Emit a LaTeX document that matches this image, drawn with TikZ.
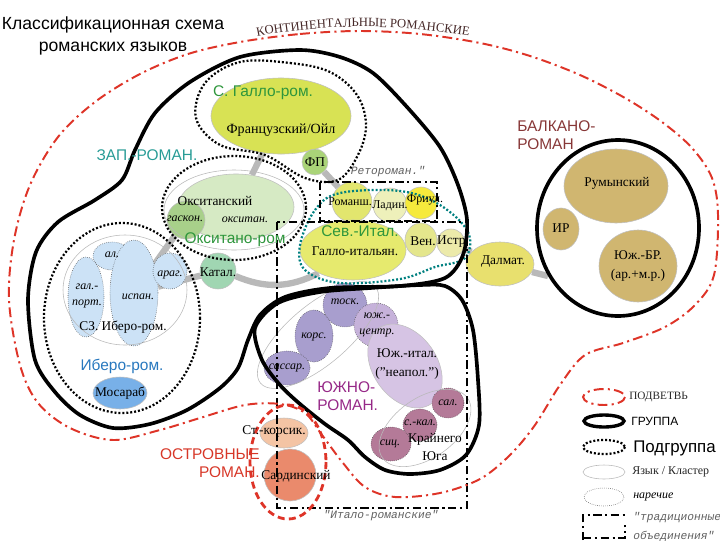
\documentclass[tikz,border=0pt]{standalone}
\usepackage{fontspec}
\setmainfont{Liberation Serif}
\newfontfamily\grpfont{Liberation Sans}
\newfontfamily\tradfont{Liberation Mono}
\usetikzlibrary{shapes.geometric,backgrounds,decorations.text}

\definecolor{podred}{RGB}{222,52,40}
\definecolor{konttxt}{RGB}{70,40,40}
\definecolor{zapcol}{RGB}{40,156,150}
\definecolor{galcol}{RGB}{46,150,60}
\definecolor{ibcol}{RGB}{40,120,190}
\definecolor{balcol}{RGB}{135,55,55}
\definecolor{yucol}{RGB}{150,40,135}
\definecolor{ostcol}{RGB}{215,55,40}
\definecolor{oil}{RGB}{216,226,84}
\definecolor{fpcol}{RGB}{170,212,120}
\definecolor{okcol}{RGB}{214,234,196}
\definecolor{gascol}{RGB}{168,208,138}
\definecolor{catcol}{RGB}{160,214,178}
\definecolor{ibcl}{RGB}{204,226,246}
\definecolor{mozcol}{RGB}{120,176,232}
\definecolor{romcol}{RGB}{226,230,110}
\definecolor{ladcol}{RGB}{238,240,186}
\definecolor{frcol}{RGB}{246,234,60}
\definecolor{gicol}{RGB}{230,234,110}
\definecolor{vencol}{RGB}{228,230,140}
\definecolor{istcol}{RGB}{236,234,170}
\definecolor{dalcol}{RGB}{232,224,110}
\definecolor{rumcol}{RGB}{208,182,112}
\definecolor{toscol}{RGB}{168,158,206}
\definecolor{yczcol}{RGB}{198,178,218}
\definecolor{yitcol}{RGB}{214,196,228}
\definecolor{salcol}{RGB}{180,122,152}
\definecolor{korscol}{RGB}{244,196,164}
\definecolor{sardcol}{RGB}{234,138,108}

\tikzset{
  sz/.style 2 args={minimum width=#1*0.05cm,minimum height=#2*0.05cm},
  lang/.style={ellipse,inner sep=0pt,draw=gray!50,thin},
  dial/.style={ellipse,inner sep=0pt,draw=gray!60!black,densely dotted,thin},
  txt/.style={inner sep=0pt,font=\fontsize{9.5}{10}\selectfont},
  ital/.style={inner sep=0pt,font=\fontsize{8.5}{12}\selectfont\itshape},
  grp/.style={inner sep=0pt,font=\grpfont\fontsize{11}{13}\selectfont},
  band/.style={line width=4.5pt,draw=gray!55},
  gruppa/.style={line width=2.6pt},
  podgr/.style={line width=1.6pt,dash pattern=on 1.4pt off 1.4pt},
  podv/.style={draw=podred,line width=1.4pt,dash pattern=on 7pt off 3pt on 1.5pt off 3pt},
  ostrov/.style={draw=podred,line width=2pt,dash pattern=on 5pt off 3pt},
  trad/.style={line width=1.1pt,dash pattern=on 6pt off 2.5pt on 1.5pt off 2.5pt},
  klaster/.style={draw=gray!55,thin},
  tradtxt/.style={inner sep=0pt,text=gray!75!black,font=\tradfont\itshape\fontsize{8}{9}\selectfont}
}

\begin{document}
\begin{tikzpicture}[x=0.025cm,y=-0.025cm]
\useasboundingbox (0,0) rectangle (720,540);

%Titel
\node[grp,align=center,font=\grpfont\fontsize{12.5}{15}\selectfont] (titel) at (113,36) {Классификационная схема\\романских языков};

%Sprachen
\node[lang,fill=oil,sz={70}{38}] (oil) at (281,116) {};
\node[lang,fill=fpcol,sz={13}{13}] (fp) at (315,162) {};
\node[lang,fill=okcol,sz={58}{33}] (ok) at (236,207) {};
\node[lang,fill=gascol,sz={19}{19}] (gas) at (186,220) {};
\node[lang,fill=catcol,sz={18}{18}] (cat) at (218,271) {};
\node[dial,fill=ibcl,sz={19}{14}] (al) at (112,256) {};
\node[dial,fill=ibcl,sz={18}{40}] (galp) at (86,297) {};
\node[dial,fill=ibcl,sz={24}{53}] (isp) at (134,293) {};
\node[dial,fill=ibcl,sz={17}{18}] (arag) at (170,271) {};
\node[lang,fill=mozcol,sz={27}{16}] (moz) at (120,393) {};
\node[lang,fill=romcol,sz={20}{20}] (rom) at (352,202) {};
\node[lang,fill=ladcol,sz={17}{17}] (lad) at (390,205) {};
\node[lang,fill=frcol,sz={16}{16}] (fri) at (421,203) {};
\node[lang,fill=gicol,sz={53}{30}] (gi) at (353,250) {};
\node[lang,fill=vencol,sz={16}{17}] (ven) at (421,240) {};
\node[lang,fill=istcol,sz={14}{14}] (ist) at (451,243) {};
\node[lang,fill=dalcol,sz={34}{22}] (dal) at (500,264) {};
\node[lang,fill=rumcol,sz={52}{37}] (rum) at (616,186) {};
\node[lang,fill=rumcol,sz={18}{21}] (ir) at (561,229) {};
\node[lang,fill=rumcol,sz={39}{36}] (ybr) at (638,266) {};
\node[dial,fill=toscol,sz={22}{22}] (tos) at (345,305) {};
\node[dial,fill=toscol,sz={19}{26}] (kor) at (314,336) {};
\node[dial,fill=toscol,sz={23}{17}] (sas) at (287,368) {};
\node[dial,fill=yczcol,sz={22}{22}] (ycz) at (376,325) {};
\node[lang,fill=yitcol,sz={46}{32},rotate=-55] (yit) at (405,366) {};
\node[dial,fill=salcol,sz={16}{15}] (sal) at (448,403) {};
\node[dial,fill=salcol,sz={17}{16}] (skal) at (420,425) {};
\node[dial,fill=salcol,sz={20}{17}] (sic) at (391,444) {};
\node[lang,fill=korscol,sz={24}{15}] (kors) at (284,433) {};
\node[lang,fill=sardcol,sz={26}{26}] (sard) at (290,475) {};

%Verbindungen
\begin{scope}[on background layer]
\draw[band] (oil) -- (ok);
\draw[band] (fp) -- (rom);
\draw[band] (gas) -- (isp);
\draw[band] (isp) -- (cat);
\draw[band] (cat) to[bend right=25] (gi);
\draw[band] (ist) -- (dal);
\draw[band] (dal) -- (548,276);
\end{scope}

%Cluster
\draw[klaster] (234,210) ellipse (70 and 40);
\draw[klaster] (125,290) ellipse (62 and 55);
\draw[klaster,rotate around={40:(318,335)}] (318,335) ellipse (75 and 30);
\draw[klaster,rotate around={35:(425,428)}] (425,428) ellipse (52 and 30);

%Untergruppen
\draw[podgr] plot[smooth cycle,tension=0.6] coordinates {(240,62) (290,63) (330,72) (357,95) (366,125) (358,155) (338,180) (305,178) (265,155) (220,145) (196,118) (205,83)};
\draw[podgr] (234,208) ellipse (72 and 52);
\draw[podgr] (122,318) ellipse (78 and 95);
\draw[podgr,draw=teal] plot[smooth cycle,tension=0.6] coordinates {(300,245) (315,210) (340,193) (400,191) (440,205) (468,232) (465,258) (435,267) (400,279) (340,283) (305,270)};

%Gruppen
\draw[gruppa] plot[smooth cycle,tension=0.5] coordinates {(240,57) (300,50) (340,57) (373,73) (407,107) (440,147) (458,185) (467,220) (463,255) (445,278) (400,286) (330,288) (285,297) (260,315) (248,340) (238,368) (220,388) (187,410) (150,424) (113,428) (80,415) (55,392) (35,360) (28,300) (36,252) (58,222) (95,200) (122,180) (135,150) (155,113) (190,82)};
\draw[gruppa] plot[smooth cycle,tension=0.5] coordinates {(255,328) (278,303) (320,292) (370,288) (420,285) (445,286) (462,300) (473,330) (478,380) (479,425) (466,455) (440,470) (410,474) (385,470) (365,457) (348,440) (325,424) (300,404) (280,385) (262,360)};
\draw[gruppa] (618,228) ellipse (81 and 88);

%Traditionelle Einheiten
\draw[trad] (320,182) rectangle (437,221);
\draw[trad] (277,222) rectangle (467,508);
\node[tradtxt] (reto) at (388,172) {Ретороман."};
\node[tradtxt] (italo) at (381,516) {"Итало-романские"};

%Inselromanisch
\draw[ostrov] (288,462) ellipse (38 and 57);

%Kontinental
\draw[podv] plot[smooth cycle,tension=0.55] coordinates {(240,42) (300,34) (360,31) (420,34) (480,43) (530,56) (580,75) (625,98) (662,122) (692,148) (712,178) (718,215) (714,275) (695,305) (665,327) (623,343) (585,355) (560,385) (535,425) (510,455) (480,479) (440,493) (395,497) (365,487) (343,463) (322,435) (305,413) (280,404) (245,405) (200,418) (160,430) (113,440) (70,428) (38,403) (20,365) (9,300) (14,240) (30,185) (58,137) (95,102) (140,74) (188,54)};
\path[decorate,decoration={text along path,text align=center,text color=konttxt,
  text={|\fontsize{9}{10}\selectfont|КОНТИНЕНТАЛЬНЫЕ РОМАНСКИЕ}}]
  (246,39) .. controls (315,23) and (405,23) .. (480,38);

%Gruppennamen
\node[grp,text=zapcol] (zap) at (147,155) {ЗАП.-РОМАН.};
\node[grp,text=galcol] (galrom) at (263,93) {С. Галло-ром.};
\node[grp,text=galcol] (okrom) at (235,240) {Окситано-ром};
\node[grp,text=galcol] (sevit) at (360,231) {Сев.-Итал.};
\node[grp,text=ibcol] (ibrom) at (122,366) {Иберо-ром.};
\node[grp,text=balcol,anchor=north west,align=left] (balk) at (517,120) {БАЛКАНО-\\РОМАН};
\node[grp,text=yucol,anchor=north west,align=left] (yuzh) at (317,381) {ЮЖНО-\\РОМАН.};
\node[grp,text=ostcol,anchor=north east,align=right] (ostr) at (260,448) {ОСТРОВНЫЕ\\РОМАН.};

%Namen der Sprachen
\node[txt,font=\fontsize{10}{11}\selectfont] (oil-t) at (281,130) {Французский/Ойл};
\node[txt] (fp-t) at (315,162) {ФП};
\node[txt] (ok-t) at (215,201) {Окситанский};
\node[ital] (gas-t) at (185,219) {гаскон.};
\node[ital] (okd-t) at (245,220) {окситан.};
\node[txt] (cat-t) at (218,272) {Катал.};
\node[ital] (al-t) at (112,255) {ал.};
\node[ital,align=center] (galp-t) at (87,296) {гал.-\\порт.};
\node[ital] (isp-t) at (138,297) {испан.};
\node[ital] (arag-t) at (170,275) {араг.};
\node[txt] (szib-t) at (123,327) {СЗ. Иберо-ром.};
\node[txt] (moz-t) at (120,393) {Мосараб};
\node[txt,font=\fontsize{8.5}{9}\selectfont] (rom-t) at (350,202) {Романш.};
\node[txt,font=\fontsize{8.5}{9}\selectfont] (lad-t) at (390,206) {Ладин.};
\node[txt,font=\fontsize{8.5}{9}\selectfont] (fri-t) at (425,200) {Фриул.};
\node[txt] (gi-t) at (355,251) {Галло-итальян.};
\node[txt] (ven-t) at (423,241) {Вен.};
\node[txt] (ist-t) at (453,242) {Истр.};
\node[txt] (dal-t) at (503,262) {Далмат.};
\node[txt] (rum-t) at (617,183) {Румынский};
\node[txt] (ir-t) at (561,228) {ИР};
\node[txt,align=center,font=\fontsize{9.5}{13}\selectfont] (ybr-t) at (638,266) {Юж.-БР.\\(ар.+м.р.)};
\node[ital] (tos-t) at (345,302) {тоск.};
\node[ital] (kor-t) at (314,337) {корс.};
\node[ital] (sas-t) at (287,368) {сассар.};
\node[ital,align=center,font=\fontsize{8.5}{11}\selectfont\itshape] (ycz-t) at (377,325) {юж.-\\центр.};
\node[txt,align=center,font=\fontsize{9.5}{13}\selectfont] (yit-t) at (407,364) {Юж.-итал.\\("неапол.")};
\node[ital] (sal-t) at (448,403) {сал.};
\node[ital] (skal-t) at (420,423) {с.-кал.};
\node[ital] (sic-t) at (390,444) {сиц.};
\node[txt,align=center,font=\fontsize{9.5}{13}\selectfont] (kraj-t) at (435,447) {Крайнего\\Юга};
\node[txt] (kors-t) at (274,431) {Ст.-корсик.};
\node[txt] (sard-t) at (296,476) {Сардинский};

%Legende
\draw[podv] (604,397) ellipse (21 and 8);
\node[txt,anchor=west,font=\fontsize{8}{9}\selectfont,text=gray!30!black] (leg1) at (629,397) {ПОДВЕТВЬ};
\draw[gruppa,line width=2.4pt] (604,421) ellipse (20 and 6);
\node[grp,anchor=west,font=\grpfont\fontsize{8.5}{9}\selectfont] (leg2) at (631,421) {ГРУППА};
\draw[podgr] (604,447) ellipse (21 and 7);
\node[grp,anchor=west,font=\grpfont\fontsize{12}{13}\selectfont] (leg3) at (633,448) {Подгруппа};
\draw[klaster] (604,472) ellipse (21 and 7);
\node[txt,anchor=west,font=\fontsize{8.5}{9}\selectfont,text=gray!30!black] (leg4) at (632,472) {Язык / Кластер};
\draw[gray!60!black,densely dotted,thin] (604,497) ellipse (20 and 9);
\node[ital,anchor=west] (leg5) at (633,497) {наречие};
\draw[trad] (583,540) -- (583,515) -- (625,515) (583,538) -- (625,538) -- (625,525);
\node[tradtxt,anchor=west] (leg6) at (633,518) {"традиционные};
\node[tradtxt,anchor=west] (leg7) at (633,536) {объединения"};
\end{tikzpicture}
\end{document}
